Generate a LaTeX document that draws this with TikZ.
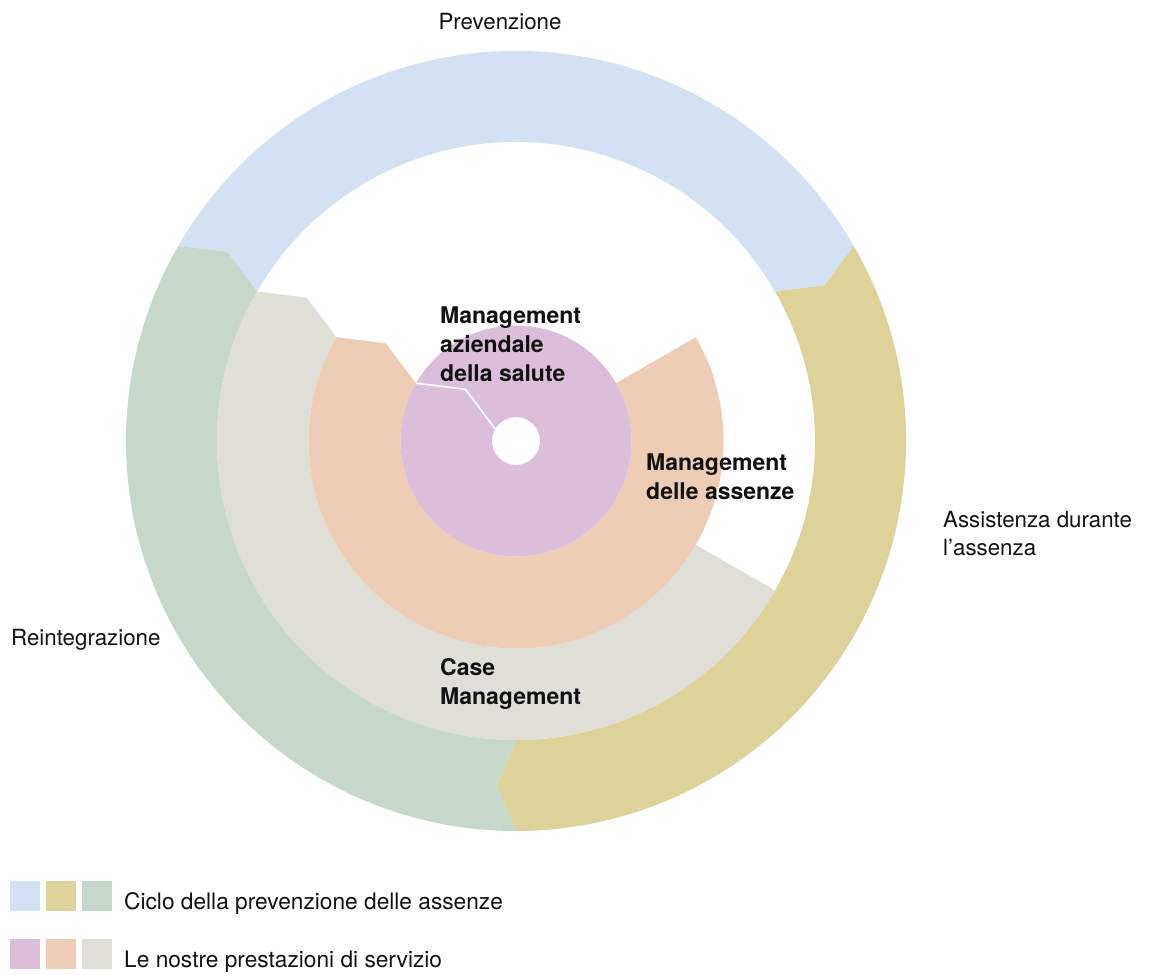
\documentclass[tikz,border=0pt]{standalone}
\usepackage{fontspec}
\setmainfont{TeX Gyre Heros}
\usetikzlibrary{calc}
\definecolor{cblue}{RGB}{212,225,242}
\definecolor{cyellow}{RGB}{220,210,154}
\definecolor{cgreen}{RGB}{199,216,202}
\definecolor{cpurple}{RGB}{219,190,218}
\definecolor{corange}{RGB}{238,205,182}
\definecolor{cgray}{RGB}{223,223,215}
\definecolor{ctext}{RGB}{17,17,17}
\tikzset{
  lbl/.style={font=\fontsize{22.3}{26}\selectfont, inner sep=0pt, anchor=base west, text=ctext},
  leglbl/.style={font=\fontsize{22.7}{26}\selectfont, inner sep=0pt, anchor=base west, text=ctext},
  blbl/.style={font=\fontsize{23}{27}\selectfont\bfseries, inner sep=0pt, anchor=base west, text=ctext},
  legsq/.style={minimum size=30pt, inner sep=0pt, anchor=south west, draw=none}
}
\begin{document}
\begin{tikzpicture}[x=1pt,y=1pt]
\useasboundingbox (0,0) rectangle (1155,974);
\begin{scope}[shift={(516,533)}]
  % outer ring
  \fill[cblue] (150:390pt) arc[start angle=150,end angle=30,radius=390pt]
    -- ($(30:345pt)+(-60:19.5pt)$) -- (30:299pt)
    arc[start angle=30,end angle=150,radius=299pt]
    -- ($(150:345pt)+(60:19.5pt)$) -- cycle;
  \fill[cyellow] (30:390pt) arc[start angle=30,end angle=-90,radius=390pt]
    -- ($(-90:345pt)+(180:19.5pt)$) -- (-90:299pt)
    arc[start angle=-90,end angle=30,radius=299pt]
    -- ($(30:345pt)+(-60:19.5pt)$) -- cycle;
  \fill[cgreen] (-90:390pt) arc[start angle=-90,end angle=-210,radius=390pt]
    -- ($(150:345pt)+(60:19.5pt)$) -- (150:299pt)
    arc[start angle=-210,end angle=-90,radius=299pt]
    -- ($(-90:345pt)+(180:19.5pt)$) -- cycle;
  % case management ring
  \fill[cgray] (-30:299pt) arc[start angle=-30,end angle=-210,radius=299pt]
    -- ($(150:253pt)+(60:19.5pt)$) -- (150:207.5pt)
    arc[start angle=-210,end angle=-30,radius=207.5pt] -- cycle;
  % absence management ring
  \fill[corange] (30:207.5pt) arc[start angle=30,end angle=-210,radius=207.5pt]
    -- ($(150:161.5pt)+(60:19.5pt)$) -- (150:115.5pt)
    arc[start angle=-210,end angle=30,radius=115.5pt] -- cycle;
  % health management disc
  \fill[cpurple, even odd rule] (0,0) circle[radius=115.5pt] (0,0) circle[radius=24pt];
  \draw[white, line width=1.6pt, line join=miter] (150:24pt) -- ($(150:69.75pt)+(60:19.5pt)$) -- (150:115.5pt);
\end{scope}

% outer labels
\node[lbl, anchor=base] (prev) at (500,944.7) {Prevenzione};
\node[lbl] (ass1) at (943,446.7) {Assistenza durante};
\node[lbl] (ass2) at (943,418) {l’assenza};
\node[lbl] (rein) at (11,328) {Reintegrazione};

% inner labels
\node[blbl] (maz1) at (440,650.5) {Management};
\node[blbl] (maz2) at (440,621.5) {aziendale};
\node[blbl] (maz3) at (440,592.5) {della salute};
\node[blbl] (mas1) at (646,503.3) {Management};
\node[blbl] (mas2) at (646,474.7) {delle assenze};
\node[blbl] (cm1) at (440,298) {Case};
\node[blbl] (cm2) at (440,269) {Management};

% legend
\node[legsq, fill=cblue] (l1) at (10,63) {};
\node[legsq, fill=cyellow] (l2) at (46,63) {};
\node[legsq, fill=cgreen] (l3) at (82,63) {};
\node[leglbl] (lt1) at (124,64.7) {Ciclo della prevenzione delle assenze};
\node[legsq, fill=cpurple] (l4) at (10,5) {};
\node[legsq, fill=corange] (l5) at (46,5) {};
\node[legsq, fill=cgray] (l6) at (82,5) {};
\node[leglbl] (lt2) at (124,6.7) {Le nostre prestazioni di servizio};
\end{tikzpicture}
\end{document}
